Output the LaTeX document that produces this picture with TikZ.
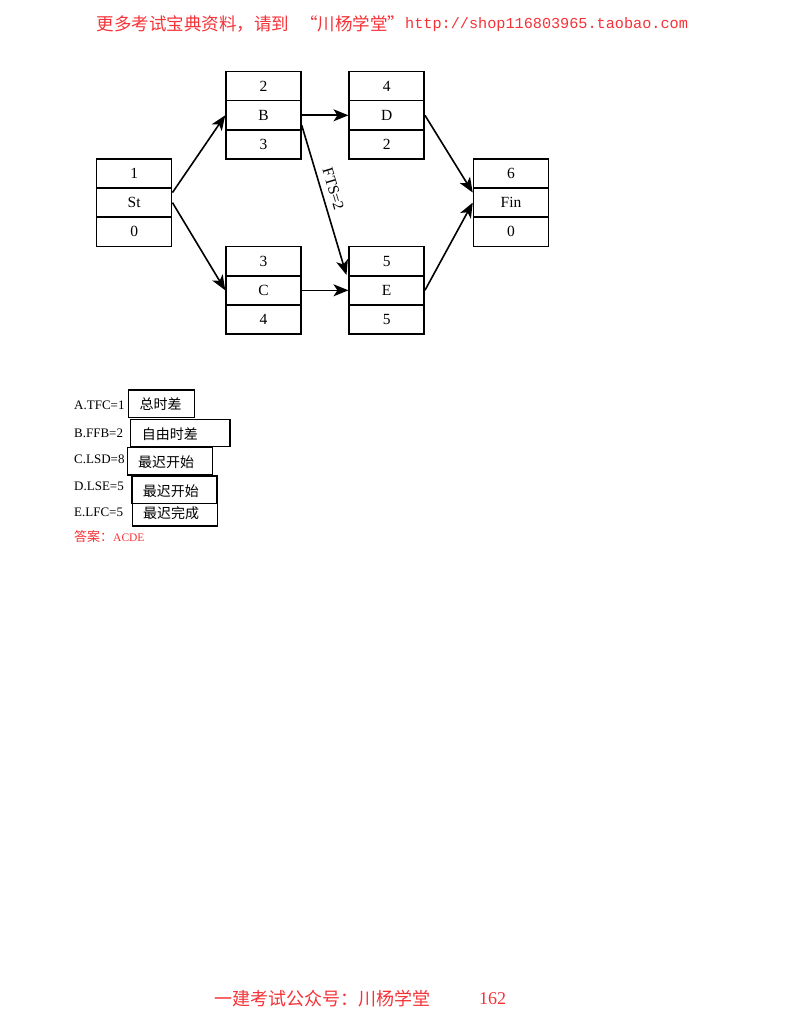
\documentclass[tikz,border=0pt]{standalone}
\usepackage{fontspec}
\setmainfont{Liberation Serif}
\newfontfamily\cjk{Noto Sans CJK SC}
\newfontfamily\mono{Liberation Mono}
\usetikzlibrary{arrows.meta}
\definecolor{hdred}{RGB}{245,50,55}
\tikzset{
  cell/.style={draw, line width=1.5pt, rectangle, minimum width=75pt, minimum height=29.1pt, inner sep=0pt, font=\fontsize{15.5}{15.5}\selectfont},
  arr/.style={line width=1.6pt, -{Stealth[length=15pt,width=12pt,inset=4pt]}},
  optlab/.style={anchor=west, inner sep=0pt, font=\fontsize{13}{13}\selectfont},
  optbox/.style={draw, line width=1.2pt},
  opttxt/.style={anchor=west, inner sep=0pt, font=\cjk\fontsize{14}{14}\selectfont},
  redtxt/.style={anchor=west, inner sep=0pt, text=hdred}
}
\begin{document}
\begin{tikzpicture}[x=1pt,y=-1pt]
\useasboundingbox (0,0) rectangle (800,1035);
% header
\node[redtxt, font=\cjk\fontsize{17.5}{17.5}\selectfont] (hdrA) at (96.7,24) {更多考试宝典资料，请到};
\node[redtxt, font=\cjk\fontsize{17.5}{17.5}\selectfont] (hdrB) at (300,24) {“川杨学堂”};
\node[redtxt, font=\mono\fontsize{15.2}{15.2}\selectfont] (hdrC) at (405,24.5) {http://shop116803965.taobao.com};
% St
\node[cell] (St1) at (134.2,173.5) {1};
\node[cell] (St)  at (134.2,202.6) {St};
\node[cell] (St0) at (134.2,231.7) {0};
% B
\node[cell] (B1) at (263.5,86.2) {2};
\node[cell] (B)  at (263.5,115.3) {B};
\node[cell] (B3) at (263.5,144.4) {3};
% D
\node[cell] (D1) at (386.7,86.2) {4};
\node[cell] (D)  at (386.7,115.3) {D};
\node[cell] (D3) at (386.7,144.4) {2};
% C
\node[cell] (C1) at (263.5,261.2) {3};
\node[cell] (C)  at (263.5,290.3) {C};
\node[cell] (C3) at (263.5,319.4) {4};
% E
\node[cell] (E1) at (386.7,261.2) {5};
\node[cell] (E)  at (386.7,290.3) {E};
\node[cell] (E3) at (386.7,319.4) {5};
% Fin
\node[cell] (F1) at (511,173.5) {6};
\node[cell] (Fin) at (511,202.6) {Fin};
\node[cell] (F3) at (511,231.7) {0};
% arrows
\draw[arr] ([yshift=10pt]St.east) -- (B.west);
\draw[arr] (St.east) -- (C.west);
\draw[arr] (B.east) -- (D.west);
\draw[arr] ([yshift=-10pt]B.east) -- node[pos=0.45, sloped, above=5pt, inner sep=1pt, font=\fontsize{15.5}{15.5}\selectfont] (fts) {FTS=2} ([xshift=-2pt]E.north west);
\draw[arr] (C.east) -- (E.west);
\draw[arr] (D.east) -- ([yshift=10pt]Fin.west);
\draw[arr] (E.east) -- (Fin.west);
% options
\node[optlab] (oa) at (74,405) {A.TFC=1};
\node[optlab] (ob) at (74,433) {B.FFB=2};
\node[optlab] (oc) at (74,459) {C.LSD=8};
\node[optlab] (od) at (74,486) {D.LSE=5};
\node[optlab] (oe) at (74,512) {E.LFC=5};
\draw[optbox] (128.3,390) rectangle (194.3,417.7);
\node[opttxt] (ta) at (139.3,404.5) {总时差};
\draw[optbox] (130.3,419.3) rectangle (230,446.7);
\node[opttxt] (tb) at (141.7,434) {自由时差};
\draw[optbox] (127.3,447.7) rectangle (212.7,475);
\node[opttxt] (tc) at (138,462.5) {最迟开始};
\draw[optbox] (132,476) rectangle (217,503.3);
\node[opttxt] (td) at (142.7,491) {最迟开始};
\draw[optbox] (132.7,503.3) rectangle (217.7,526);
\node[opttxt] (te) at (143,513.5) {最迟完成};
\node[redtxt] (ans) at (74,537) {{\cjk\fontsize{13}{13}\selectfont 答案：}{\fontsize{11.5}{11.5}\selectfont ACDE}};
% footer
\node[redtxt] (ftr) at (214,999) {\cjk\fontsize{18}{18}\selectfont 一建考试公众号：川杨学堂};
\node[redtxt] (pg) at (479,999) {\fontsize{18}{18}\selectfont 162};
\end{tikzpicture}
\end{document}
